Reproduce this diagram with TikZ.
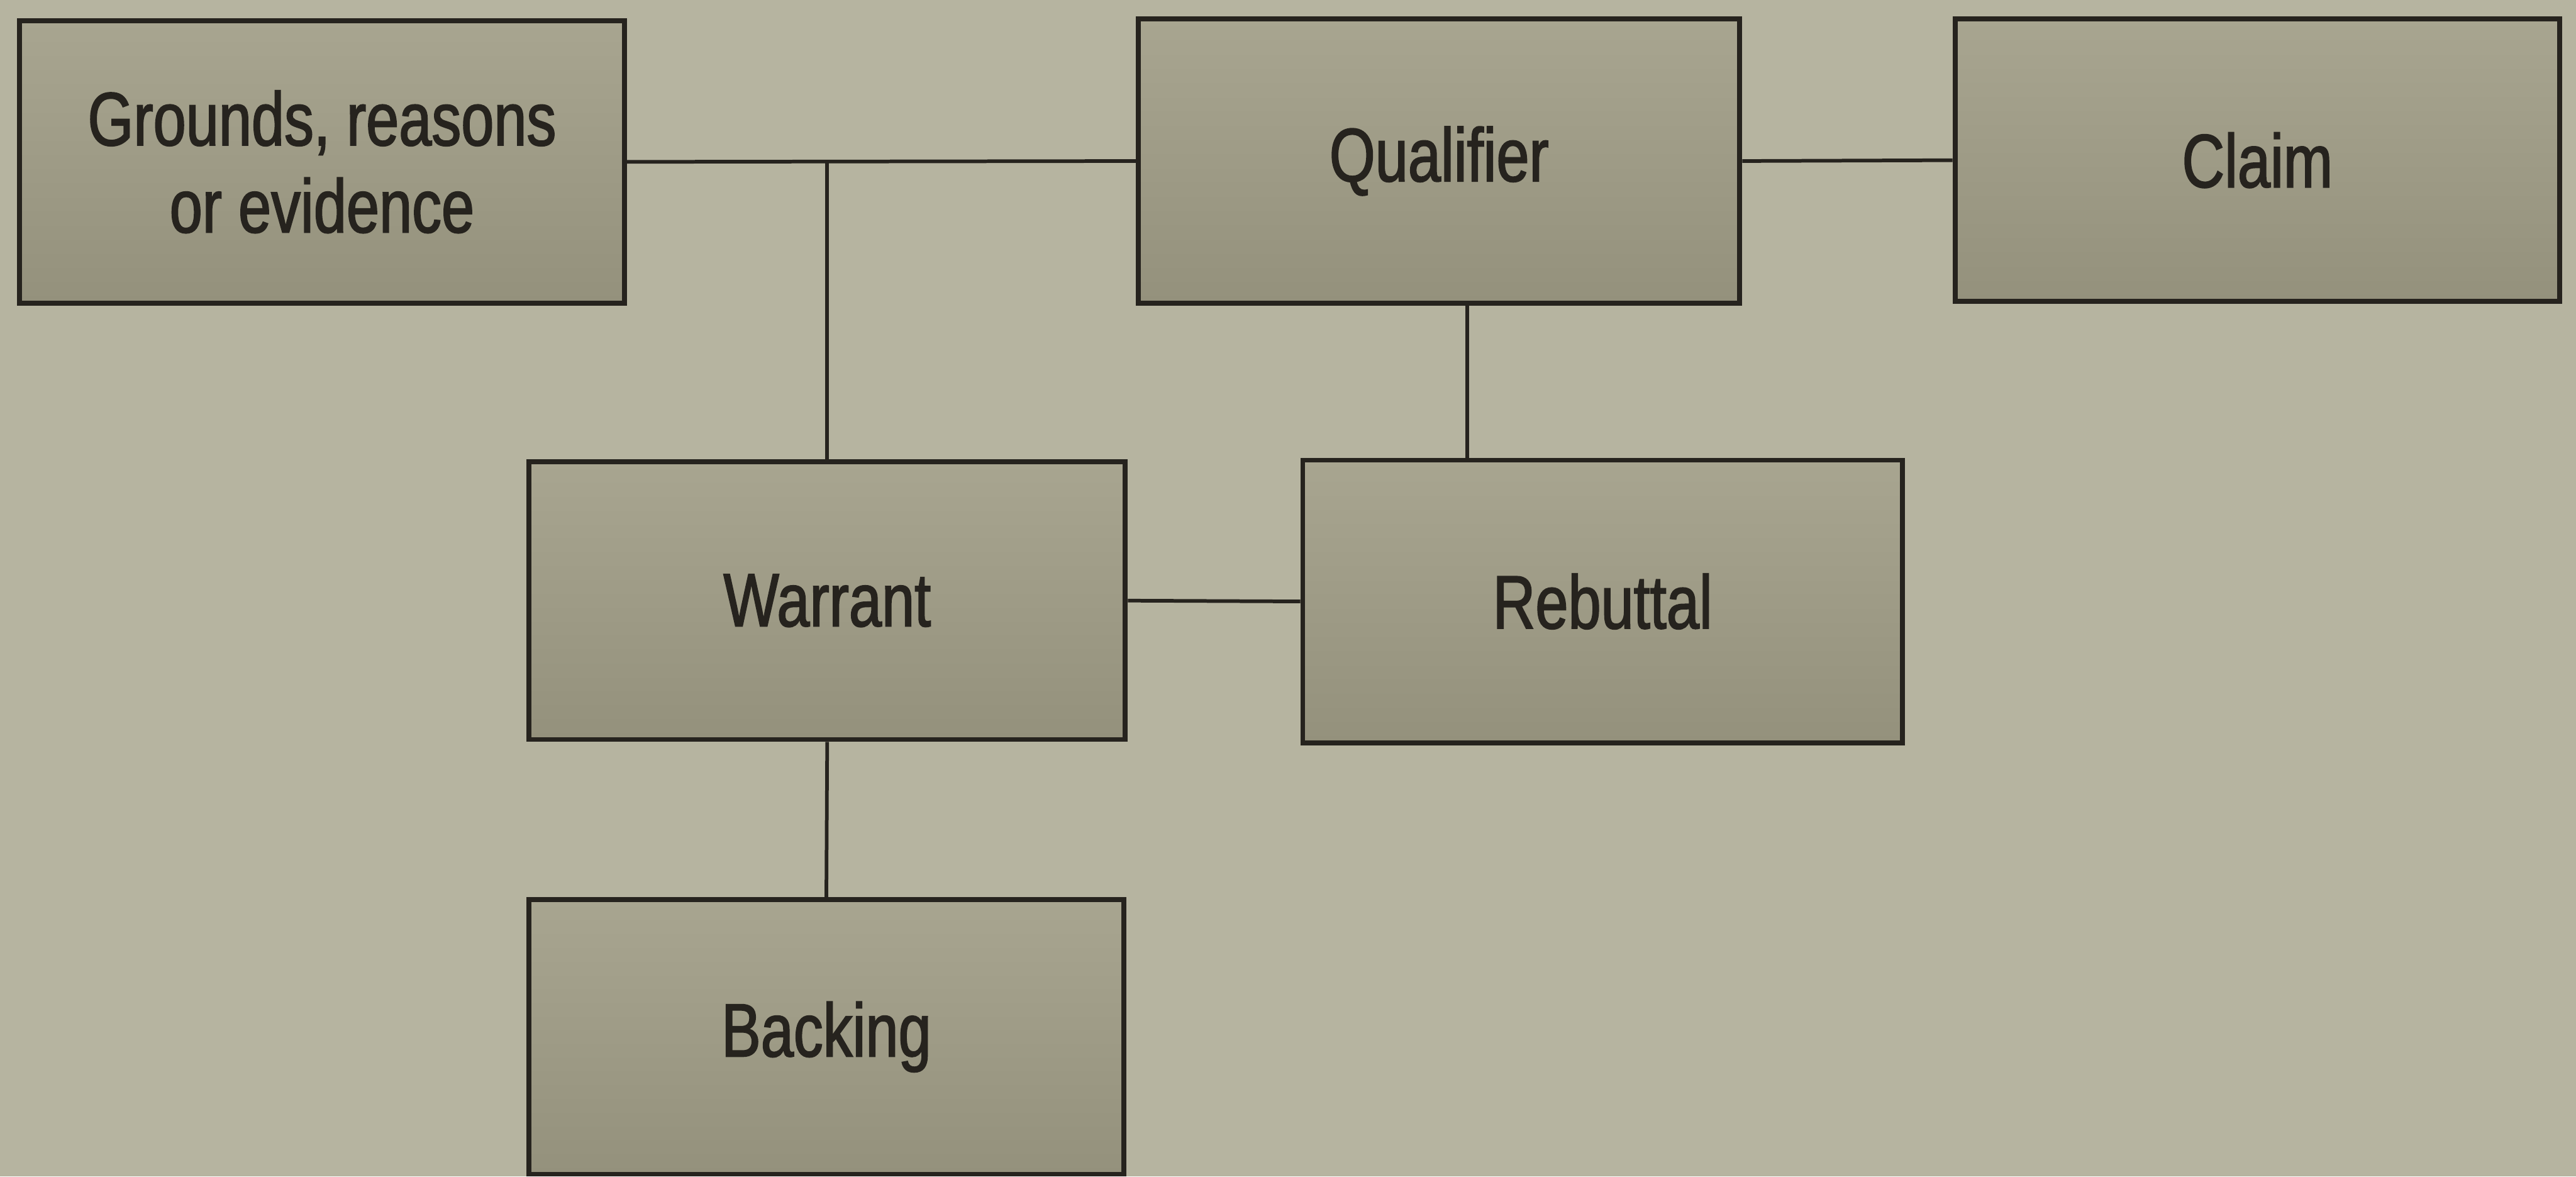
\documentclass[tikz,border=0pt]{standalone}
\usepackage{fontspec}
\setmainfont[FakeStretch=0.78,FakeBold=1.6]{Liberation Sans}
\usetikzlibrary{positioning}
\definecolor{bgc}{HTML}{B6B4A0}
\definecolor{boxtop}{HTML}{A8A590}
\definecolor{boxbot}{HTML}{94917C}
\definecolor{ink}{HTML}{26231E}
\begin{document}
\begin{tikzpicture}[x=1pt,y=1pt,
  tbox/.style={rectangle, draw=ink, line width=3pt, top color=boxtop, bottom color=boxbot,
    inner sep=0pt, align=center, text=ink, font=\fontsize{46}{53}\selectfont},
  conn/.style={draw=ink, line width=2.2pt}]
\fill[bgc] (0,0) rectangle (1568,716);
\useasboundingbox (0,0) rectangle (1568,716);
\node[tbox, minimum width=368, minimum height=172] (G) at (196,617.5) {Grounds, reasons\\or evidence};
\node[tbox, minimum width=366, minimum height=173] (Q) at (876,618) {Qualifier};
\node[tbox, minimum width=368, minimum height=172] (C) at (1374,618.5) {Claim};
\node[tbox, minimum width=363, minimum height=169] (W) at (503.5,350.5) {Warrant};
\node[tbox, minimum width=365, minimum height=172] (R) at (975.5,350) {Rebuttal};
\node[tbox, minimum width=362, minimum height=167] (B) at (503,85) {Backing};
\draw[conn] (G.east) -- (Q.west);
\draw[conn] (Q.east) -- (C.west);
\draw[conn] (W.north) -- (W.north |- G.east);
\draw[conn] ([xshift=17pt]Q.south) -- ([xshift=17pt]Q.south |- R.north);
\draw[conn] (W.east) -- (R.west);
\draw[conn] (W.south) -- (B.north);
\end{tikzpicture}
\end{document}
